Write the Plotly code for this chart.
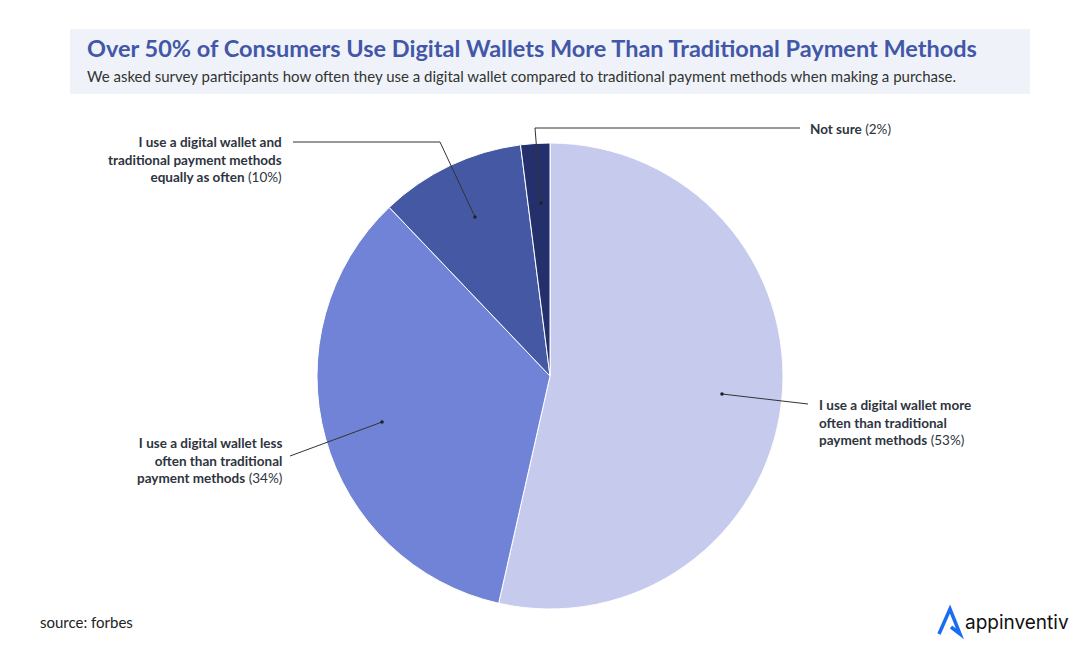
import plotly.graph_objects as go

labels = ["I use a digital wallet more often than traditional payment methods",
          "I use a digital wallet less often than traditional payment methods",
          "I use a digital wallet and traditional payment methods equally as often",
          "Not sure"]
values = [53, 34, 10, 2]
colors = ["#c6cbee", "#7083d6", "#4558a4", "#23306b"]
label_html = [
    "<b>I use a digital wallet more<br>often than traditional<br>payment methods</b> (53%)",
    "<b>I use a digital wallet less<br>often than traditional<br>payment methods</b> (34%)",
    "<b>I use a digital wallet and<br>traditional payment methods<br>equally as often</b> (10%)",
    "<b>Not sure</b> (2%)",
]

W, H = 1064, 650
def px(x): return (x - 8) / W
def py(y): return 1 - (y - 8) / H

fig = go.Figure(go.Pie(
    labels=labels, values=values, sort=False, direction="clockwise", rotation=0,
    marker=dict(colors=colors, line=dict(color="white", width=1)),
    textinfo="none", hoverinfo="label+percent", showlegend=False,
    domain=dict(x=[px(317), px(783)], y=[py(609), py(143)]),
))

shapes = [dict(type="rect", xref="paper", yref="paper", x0=px(70), x1=px(1030), y0=py(94), y1=py(29),
               fillcolor="#eff3f9", line=dict(width=0), layer="below")]
paths = [
    [(722, 394), (808, 404)],
    [(382, 422), (290, 456)],
    [(475, 217), (440, 142), (293, 142)],
    [(541, 203), (535, 128), (800, 128)],
]
for pts in paths:
    d = "M " + " L ".join(f"{px(x)},{py(y)}" for x, y in pts)
    shapes.append(dict(type="path", xref="paper", yref="paper", path=d, line=dict(color="#333", width=1)))
    x, y = pts[0]
    shapes.append(dict(type="circle", xref="paper", yref="paper", x0=px(x - 1.8), x1=px(x + 1.8),
                       y0=py(y + 1.8), y1=py(y - 1.8), fillcolor="#222", line=dict(width=0)))

font = dict(family="Lato, Open Sans, sans-serif", size=13.5, color="#2e3440")
ann = [
    dict(x=px(817), y=py(422), text=label_html[0], xanchor="left", align="left"),
    dict(x=px(284), y=py(460), text=label_html[1], xanchor="right", align="right"),
    dict(x=px(284), y=py(160), text=label_html[2], xanchor="right", align="right"),
    dict(x=px(808), y=py(129), text=label_html[3], xanchor="left", align="left"),
]
for a in ann:
    a.update(xref="paper", yref="paper", yanchor="middle", showarrow=False, font=font)
ann += [
    dict(x=px(85), y=py(48), xref="paper", yref="paper", showarrow=False, xanchor="left", yanchor="middle",
         text="<b>Over 50% of Consumers Use Digital Wallets More Than Traditional Payment Methods</b>",
         font=dict(family="Lato, sans-serif", size=23.5, color="#4257a8")),
    dict(x=px(85), y=py(76), xref="paper", yref="paper", showarrow=False, xanchor="left", yanchor="middle",
         text="We asked survey participants how often they use a digital wallet compared to traditional payment methods when making a purchase.",
         font=dict(family="Lato, sans-serif", size=15, color="#333")),
    dict(x=px(38), y=py(622), xref="paper", yref="paper", showarrow=False, xanchor="left", yanchor="middle",
         text="source: forbes", font=dict(family="Lato, sans-serif", size=15, color="#222")),
    dict(x=px(963), y=py(622), xref="paper", yref="paper", showarrow=False, xanchor="left", yanchor="middle",
         text="appinventiv", font=dict(family="Inter, sans-serif", size=19, color="#111")),
]
shapes.append(dict(type="path", xref="paper", yref="paper",
                   path=f"M {px(939)},{py(634)} L {px(950)},{py(609)} L {px(960)},{py(634)} L {px(951)},{py(627)}",
                   line=dict(color="#1a6cf0", width=3.5)))

fig.update_layout(width=W, height=H, margin=dict(l=0, r=0, t=0, b=0),
                  paper_bgcolor="white", shapes=shapes, annotations=ann)
fig.write_html("out.html")
